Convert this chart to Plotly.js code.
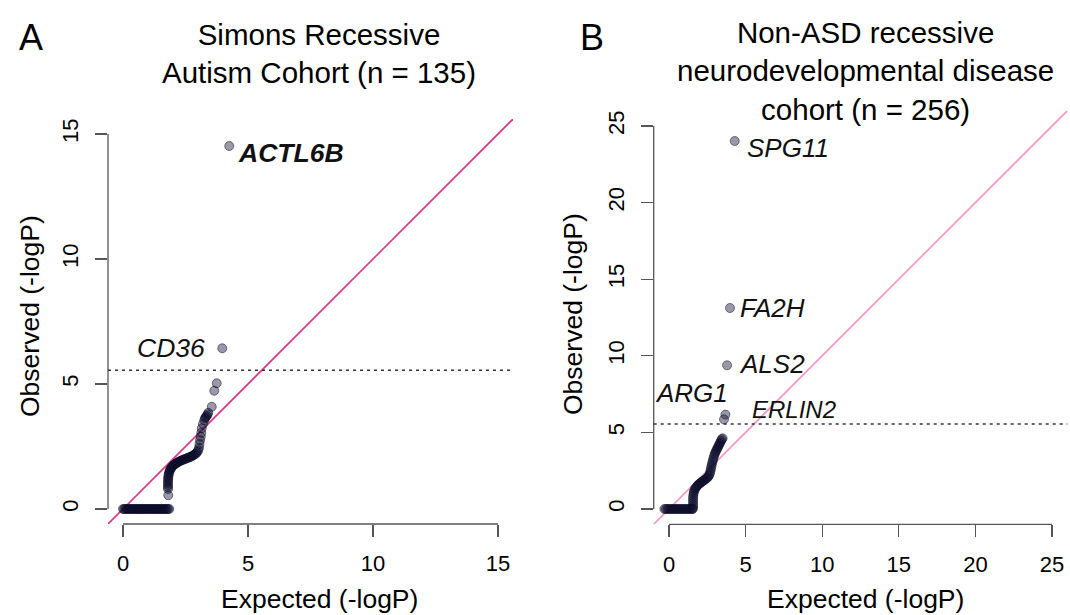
<!DOCTYPE html>
<html>
<head>
<meta charset="utf-8">
<script src="https://cdn.plot.ly/plotly-3.0.1.min.js"></script>
<style>html,body{margin:0;padding:0;background:#fff;}#chart{width:1070px;height:615px;}</style>
</head>
<body>
<div id="chart"></div>
<script>
// ---------- Panel A: Simons Recessive Autism Cohort ----------
const aZeroX = [0,0.05,0.1,0.15,0.2,0.25,0.3,0.35,0.4,0.45,0.5,0.55,0.6,0.65,0.7,0.75,0.8,0.85,0.9,0.95,1.0,1.05,1.1,1.15,1.2,1.25,1.3,1.35,1.4,1.45,1.5,1.55,1.6,1.65,1.7,1.75,1.8,1.85];
const aZeroY = [0,0,0,0,0,0,0,0,0,0,0,0,0,0,0,0,0,0,0,0,0,0,0,0,0,0,0,0,0,0,0,0,0,0,0,0,0,0];
const aCurveX = [1.81,1.80,1.80,1.80,1.80,1.80,1.81,1.81,1.82,1.83,1.85,1.87,1.89,1.92,1.95,1.98,2.02,2.06,2.10,2.14,2.18,2.23,2.28,2.33,2.38,2.43,2.48,2.53,2.58,2.63,2.68,2.73,2.78,2.83,2.88,2.93,2.97,3.01];
const aCurveY = [0.55,0.80,0.88,0.96,1.04,1.12,1.20,1.27,1.34,1.41,1.47,1.53,1.58,1.63,1.67,1.71,1.75,1.78,1.81,1.84,1.86,1.89,1.92,1.94,1.96,1.98,2.00,2.02,2.04,2.06,2.08,2.10,2.13,2.16,2.19,2.23,2.28,2.35];
const aTopX = [3.04,3.06,3.08,3.11,3.13,3.15,3.20,3.25,3.28,3.31,3.35,3.38,3.41,3.55,3.65,3.75,3.97,4.25];
const aTopY = [2.45,2.60,2.75,2.89,3.05,3.23,3.40,3.55,3.63,3.68,3.72,3.78,3.85,4.09,4.73,5.03,6.43,14.52];
const aGenes = ["ACTL6B","CD36"];
const aGeneX = [4.25,3.97];
const aGeneY = [14.52,6.43];

// ---------- Panel B: Non-ASD recessive NDD cohort ----------
const bZeroX = [-0.3,-0.2,-0.1,0,0.1,0.2,0.3,0.4,0.5,0.6,0.7,0.8,0.9,1.0,1.1,1.2,1.3,1.4,1.5,1.55];
const bZeroY = [0,0,0,0,0,0,0,0,0,0,0,0,0,0,0,0,0,0,0,0];
const bCurveX = [1.57,1.57,1.57,1.57,1.57,1.58,1.60,1.63,1.67,1.72,1.78,1.85,1.92,2.00,2.08,2.16,2.24,2.32,2.40,2.48,2.55,2.61,2.66,2.70,2.73,2.76,2.79,2.83,2.87,2.91,2.95,3.00,3.05,3.10,3.15,3.20,3.25,3.30,3.35,3.40,3.44];
const bCurveY = [0.10,0.25,0.40,0.55,0.70,0.85,1.00,1.13,1.25,1.35,1.44,1.52,1.59,1.66,1.72,1.78,1.84,1.90,1.96,2.02,2.09,2.18,2.30,2.45,2.60,2.75,2.90,3.05,3.20,3.35,3.50,3.62,3.74,3.85,3.95,4.05,4.15,4.25,4.35,4.45,4.55];
const bTopX = [3.50,3.59,3.68,3.79,3.98,4.29];
const bTopY = [4.61,5.85,6.16,9.38,13.12,24.02];
const bGenes = ["SPG11","FA2H","ALS2","ARG1","ERLIN2"];
const bGeneX = [4.29,3.98,3.79,3.68,3.59];
const bGeneY = [24.02,13.12,9.38,6.16,5.85];

const threshold = 5.55;
const aTicks = [0,5,10,15];
const bTicks = [0,5,10,15,20,25];

// ---------- styling ----------
const FONT = "Liberation Sans, Arial, Helvetica, sans-serif";
const W = 1070, H = 615;
const px = v => v / W;
const py = v => 1 - v / H;
const axisCol = "#555555";
const pointStyle = {size: 9, color: "rgba(12,12,50,0.42)", line: {color: "rgba(10,10,30,0.5)", width: 1}};

const cat = (...a) => [].concat(...a);

const traces = [
  {x: [-1, 30], y: [-1, 30], xaxis: "x", yaxis: "y", mode: "lines", line: {color: "#e0308a", width: 1.6}, hoverinfo: "skip"},
  {x: cat(aZeroX, aCurveX, aTopX), y: cat(aZeroY, aCurveY, aTopY), xaxis: "x", yaxis: "y", mode: "markers", marker: pointStyle},
  {x: [-2, 40], y: [-2, 40], xaxis: "x2", yaxis: "y2", mode: "lines", line: {color: "#f096c4", width: 1.6}, hoverinfo: "skip"},
  {x: cat(bZeroX, bCurveX, bTopX), y: cat(bZeroY, bCurveY, bTopY), xaxis: "x2", yaxis: "y2", mode: "markers", marker: pointStyle}
];

function axis(domain, range, ticks, anchor, isY) {
  const a = {
    domain: domain, range: range, anchor: anchor,
    tickmode: "array", tickvals: ticks, ticktext: ticks.map(String),
    ticks: "outside", ticklen: 12, tickwidth: 1.3, tickcolor: axisCol,
    showline: false, showgrid: false, zeroline: false,
    tickfont: {family: FONT, size: 22, color: "#000"},
    fixedrange: true, ticklabelstandoff: 8
  };
  if (isY) { a.tickangle = -90; }
  return a;
}

const shapes = [];
function axisLines(xr, yr, ticks) {
  const last = ticks[ticks.length - 1];
  shapes.push({type: "line", xref: xr, yref: yr + " domain", x0: 0, x1: last, y0: 0, y1: 0, line: {color: axisCol, width: 1.3}});
  shapes.push({type: "line", xref: xr + " domain", yref: yr, x0: 0, x1: 0, y0: 0, y1: last, line: {color: axisCol, width: 1.3}});
  shapes.push({type: "line", xref: xr + " domain", yref: yr, x0: 0, x1: 1, y0: threshold, y1: threshold, line: {color: "#333", width: 1.5, dash: "3px,4px"}});
}
axisLines("x", "y", aTicks);
axisLines("x2", "y2", bTicks);

const annotations = [];
function ann(o) {
  annotations.push(Object.assign({showarrow: false, font: {family: FONT, size: 26, color: "#111"}}, o));
}
// panel letters
ann({xref: "paper", yref: "paper", x: px(31), y: py(37), text: "A", font: {family: FONT, size: 36, color: "#000"}, xanchor: "center", yanchor: "middle"});
ann({xref: "paper", yref: "paper", x: px(592), y: py(37), text: "B", font: {family: FONT, size: 36, color: "#000"}, xanchor: "center", yanchor: "middle"});
// titles
ann({xref: "paper", yref: "paper", x: px(319), y: py(53), text: "Simons Recessive<br>Autism Cohort (n = 135)", font: {family: FONT, size: 29.5, color: "#000"}, xanchor: "center", yanchor: "middle"});
ann({xref: "paper", yref: "paper", x: px(865), y: py(71), text: "Non-ASD recessive<br>neurodevelopmental disease<br>cohort (n = 256)", font: {family: FONT, size: 29.5, color: "#000"}, xanchor: "center", yanchor: "middle"});
// axis titles
ann({xref: "paper", yref: "paper", x: px(319), y: py(599), text: "Expected (-logP)", font: {family: FONT, size: 26.5, color: "#000"}, xanchor: "center", yanchor: "middle"});
ann({xref: "paper", yref: "paper", x: px(865), y: py(599), text: "Expected (-logP)", font: {family: FONT, size: 26.5, color: "#000"}, xanchor: "center", yanchor: "middle"});
ann({xref: "paper", yref: "paper", x: px(30), y: py(316), text: "Observed (-logP)", textangle: -90, font: {family: FONT, size: 26.5, color: "#000"}, xanchor: "center", yanchor: "middle"});
ann({xref: "paper", yref: "paper", x: px(573), y: py(314), text: "Observed (-logP)", textangle: -90, font: {family: FONT, size: 26.5, color: "#000"}, xanchor: "center", yanchor: "middle"});

// gene labels (anchored at their points)
const aLab = [{xanchor: "left", xshift: 7, yshift: -7, bold: true}, {xanchor: "right", xshift: -15, yshift: 0}];
aGenes.forEach((g, i) => {
  const s = aLab[i];
  ann({xref: "x", yref: "y", x: aGeneX[i], y: aGeneY[i], text: s.bold ? "<b><i>" + g + "</i></b>" : "<i>" + g + "</i>", xanchor: s.xanchor, yanchor: "middle", xshift: s.xshift, yshift: s.yshift, font: {family: FONT, size: 26.5, color: "#111"}});
});
const bLab = [
  {xanchor: "left", xshift: 10, yshift: -7, size: 26},
  {xanchor: "left", xshift: 8, yshift: 0, size: 26},
  {xanchor: "left", xshift: 10, yshift: 1, size: 26},
  {xanchor: "right", xshift: 5, yshift: 22, size: 26},
  {xanchor: "left", xshift: 26, yshift: 10, size: 24}
];
bGenes.forEach((g, i) => {
  const s = bLab[i];
  ann({xref: "x2", yref: "y2", x: bGeneX[i], y: bGeneY[i], text: "<i>" + g + "</i>", xanchor: s.xanchor, yanchor: "middle", xshift: s.xshift, yshift: s.yshift, font: {family: FONT, size: s.size, color: "#111"}});
});

const layout = {
  width: W, height: H,
  margin: {l: 0, r: 0, t: 0, b: 0},
  paper_bgcolor: "#fff", plot_bgcolor: "#fff",
  showlegend: false,
  xaxis: axis([px(108), px(513)], [-0.6, 15.6], aTicks, "y", false),
  yaxis: axis([py(524), py(119)], [-0.6, 15.6], aTicks, "x", true),
  xaxis2: axis([px(653.7), px(1067.3)], [-1, 26], bTicks, "y2", false),
  yaxis2: axis([py(524.3), py(110.7)], [-1, 26], bTicks, "x2", true),
  shapes: shapes,
  annotations: annotations
};

Plotly.newPlot("chart", traces, layout, {displayModeBar: false, staticPlot: true});
</script>
</body>
</html>
